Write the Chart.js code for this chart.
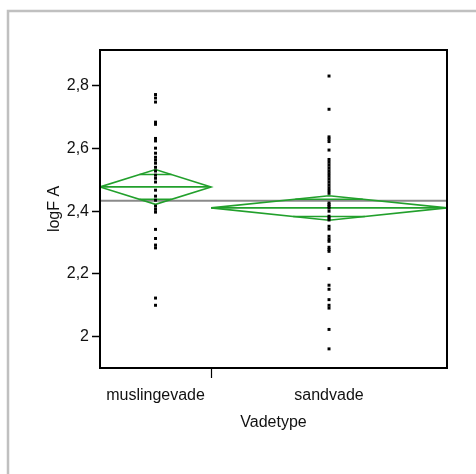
<!DOCTYPE html>
<html>
<head>
<meta charset="utf-8">
<script src="https://cdn.jsdelivr.net/npm/chart.js@4"></script>
<style>
  html, body { margin: 0; padding: 0; background: #fff; }
  canvas { display: block; }
</style>
</head>
<body>
<canvas id="chart" width="476" height="474"></canvas>
<script>
// oneway plot: logF A by Vadetype, with means diamonds

const groups = ['muslingevade', 'sandvade'];
const groupN = [24, 51];              // diamond widths follow group size
const groupMean = [2.4775, 2.4105];
const ciLow = [2.422, 2.371];
const ciHigh = [2.533, 2.449];
const overlapLow = [2.438, 2.383];
const overlapHigh = [2.517, 2.438];
const grandMean = 2.433;

const yTicks = [2, 2.2, 2.4, 2.6, 2.8];

const muslingevade = [2.772, 2.761, 2.748, 2.684, 2.677, 2.632, 2.624, 2.601, 2.585, 2.572,
  2.563, 2.553, 2.540, 2.528, 2.515, 2.505, 2.493, 2.467, 2.448, 2.435, 2.416, 2.406, 2.397,
  2.342, 2.313, 2.292, 2.283, 2.123, 2.100];
const sandvade = [2.831, 2.725, 2.637, 2.630, 2.622, 2.595, 2.565, 2.556, 2.547, 2.538, 2.529,
  2.520, 2.511, 2.502, 2.493, 2.484, 2.475, 2.466, 2.457, 2.426, 2.421, 2.415, 2.410, 2.400,
  2.384, 2.378, 2.372, 2.352, 2.343, 2.320, 2.311, 2.304, 2.285, 2.278, 2.272, 2.217, 2.164,
  2.151, 2.118, 2.100, 2.091, 2.023, 1.961];

const FONT = "'Liberation Sans Narrow', 'Liberation Sans', Arial, sans-serif";
const FSIZE = 16;
const GREEN = 'rgb(34,160,44)';

// x positions: each group gets a slot as wide as its n
const starts = [0, groupN[0]];
const total = groupN[0] + groupN[1];
const centers = starts.map((s, i) => s + groupN[i] / 2);

const datasets = [];

// raw points first so they sit on top
[muslingevade, sandvade].forEach((vals, i) => {
  datasets.push({
    type: 'scatter',
    data: vals.map(v => ({ x: centers[i], y: v })),
    pointStyle: 'rect',
    pointRadius: 2.1,
    pointBorderWidth: 0,
    pointBackgroundColor: '#000',
    borderColor: '#000'
  });
});

function lineSet(pts, color, width) {
  return {
    type: 'line',
    data: pts,
    borderColor: color,
    borderWidth: width,
    pointRadius: 0,
    fill: false,
    tension: 0
  };
}

groups.forEach((g, i) => {
  const s = starts[i], e = s + groupN[i], c = centers[i];
  // diamond outline
  datasets.push(lineSet([
    { x: s, y: groupMean[i] }, { x: c, y: ciHigh[i] }, { x: e, y: groupMean[i] },
    { x: c, y: ciLow[i] }, { x: s, y: groupMean[i] }
  ], GREEN, 1.6));
  // mean line across
  datasets.push(lineSet([{ x: s, y: groupMean[i] }, { x: e, y: groupMean[i] }], GREEN, 1.6));
  // overlap marks, clipped to the diamond edges
  [[overlapHigh[i], ciHigh[i]], [overlapLow[i], ciLow[i]]].forEach(([v, tip]) => {
    const half = (groupN[i] / 2) * (1 - (v - groupMean[i]) / (tip - groupMean[i]));
    datasets.push(lineSet([{ x: c - half, y: v }, { x: c + half, y: v }], GREEN, 1.6));
  });
});

// grand mean
datasets.push(lineSet([{ x: 0, y: grandMean }, { x: total, y: grandMean }], '#8a8a8a', 2));

const framePlugin = {
  id: 'frame',
  beforeDraw(chart) {
    const ctx = chart.ctx;
    ctx.save();
    ctx.fillStyle = '#fff';
    ctx.fillRect(0, 0, chart.width, chart.height);
    ctx.strokeStyle = '#c0c0c0';
    ctx.lineWidth = 2.5;
    ctx.strokeRect(8, 11, chart.width, chart.height);
    ctx.restore();
  },
  afterDraw(chart) {
    const a = chart.chartArea, ctx = chart.ctx;
    ctx.save();
    ctx.strokeStyle = '#000';
    ctx.lineWidth = 2;
    ctx.strokeRect(a.left, a.top, a.right - a.left, a.bottom - a.top);
    ctx.restore();
  }
};

new Chart(document.getElementById('chart'), {
  type: 'scatter',
  data: { datasets },
  plugins: [framePlugin],
  options: {
    responsive: false,
    animation: false,
    devicePixelRatio: 1,
    layout: { padding: { left: 0, top: 50, right: 29, bottom: 0 } },
    plugins: { legend: { display: false }, tooltip: { enabled: false } },
    scales: {
      x: {
        type: 'linear',
        min: 0,
        max: total,
        afterBuildTicks: s => { s.ticks = [{ value: centers[0] }, { value: groupN[0] }, { value: centers[1] }]; },
        afterFit: s => { s.height = 106; },
        ticks: {
          autoSkip: false,
          maxRotation: 0,
          padding: 8,
          color: '#111',
          font: { family: FONT, size: FSIZE },
          callback: (v, idx) => idx === 0 ? groups[0] : idx === 2 ? groups[1] : ''
        },
        grid: {
          drawOnChartArea: false,
          tickLength: 10,
          tickWidth: 1.2,
          tickColor: c => c.index === 1 ? '#000' : 'rgba(0,0,0,0)'
        },
        border: { display: true, color: '#000', width: 2 },
        title: {
          display: true,
          text: 'Vadetype',
          color: '#111',
          font: { family: FONT, size: FSIZE },
          padding: { top: 0, bottom: 42 }
        }
      },
      y: {
        type: 'linear',
        min: 1.9,
        max: 2.914,
        afterBuildTicks: s => { s.ticks = yTicks.map(v => ({ value: v })); },
        afterFit: s => { s.width = 100; },
        ticks: {
          padding: 3,
          color: '#111',
          font: { family: FONT, size: FSIZE },
          callback: v => String(v).replace('.', ',')
        },
        grid: {
          drawOnChartArea: false,
          tickLength: 8,
          tickWidth: 1.5,
          tickColor: '#000'
        },
        border: { display: true, color: '#000', width: 2 },
        title: {
          display: true,
          text: 'logF A',
          color: '#111',
          font: { family: FONT, size: FSIZE },
          padding: { top: 45, bottom: 0 }
        }
      }
    }
  }
});
</script>
</body>
</html>
